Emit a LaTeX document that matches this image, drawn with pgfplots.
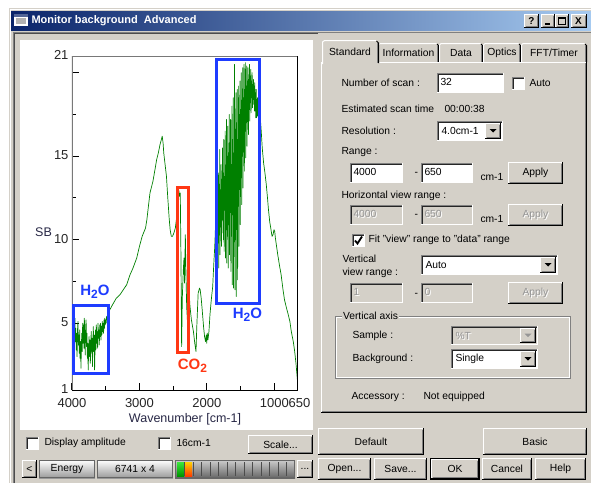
\documentclass[border=0pt]{standalone}
\usepackage{pgfplots}
\pgfplotsset{compat=1.18}
\usepackage{fontspec}
\setmainfont{Liberation Sans}
\definecolor{winbg}{RGB}{212,208,200}
\definecolor{winshadow}{RGB}{128,128,128}
\definecolor{distxt}{RGB}{150,150,150}
\definecolor{titleL}{RGB}{10,36,106}
\definecolor{titleR}{RGB}{166,202,240}
\definecolor{specgreen}{RGB}{0,128,0}
\definecolor{annblue}{RGB}{30,60,255}
\definecolor{annred}{RGB}{255,55,20}
\definecolor{axgray}{RGB}{120,120,120}
\definecolor{lbltext}{RGB}{40,40,70}
\newcommand\dlg{\fontsize{10.3}{12}\selectfont}
\newcommand\tickf{\fontsize{13}{13}\selectfont}
\newcommand{\raisedbox}[4]{%
  \fill[winbg] (#1,#2) rectangle (#3,#4);
  \draw[white] (#1+0.5,#4-1) -- (#1+0.5,#2+0.5) -- (#3-1,#2+0.5);
  \draw[winshadow] (#1+1.5,#4-1.5) -- (#3-1.5,#4-1.5) -- (#3-1.5,#2+1.5);
  \draw[black] (#1,#4-0.5) -- (#3-0.5,#4-0.5) -- (#3-0.5,#2);}
\newcommand{\sunkenbox}[5]{%
  \fill[#1] (#2,#3) rectangle (#4,#5);
  \draw[winshadow] (#2+0.5,#5) -- (#2+0.5,#3+0.5) -- (#4,#3+0.5);
  \draw[black!85] (#2+1.5,#5-1) -- (#2+1.5,#3+1.5) -- (#4-1,#3+1.5);
  \draw[white] (#2,#5-0.5) -- (#4-0.5,#5-0.5) -- (#4-0.5,#3);}
\newcommand{\btn}[5]{\raisedbox{#1}{#2}{#3}{#4}%
  \node[font=\dlg,inner sep=0] at ({(#1+#3)/2},{(#2+#4)/2}) {#5};}
\newcommand{\distext}[3]{%
  \node[anchor=west,inner sep=0,font=\dlg,text=white] at (#1+1,#2+1) {#3};
  \node[anchor=west,inner sep=0,font=\dlg,text=distxt] at (#1,#2) {#3};}
\newcommand{\dbtn}[5]{\raisedbox{#1}{#2}{#3}{#4}%
  \node[font=\dlg,inner sep=0,text=white] at ({(#1+#3)/2+1},{(#2+#4)/2+1}) {#5};
  \node[font=\dlg,inner sep=0,text=distxt] at ({(#1+#3)/2},{(#2+#4)/2}) {#5};}
\newcommand{\txt}[3]{\node[anchor=west,inner sep=0,font=\dlg] at (#1,#2) {#3};}
\newcommand{\chk}[2]{\sunkenbox{white}{#1}{#2}{#1+13}{#2+13}}
\newcommand{\ddown}[6]{%
  \sunkenbox{#1}{#2}{#3}{#4}{#5}
  \raisedbox{#4-18}{#3+2}{#4-2}{#5-2}
  \fill[black] (#4-13.5,{(#3+#5)/2-2}) -- (#4-6.5,{(#3+#5)/2-2}) -- (#4-10,{(#3+#5)/2+1.5}) -- cycle;
  \node[anchor=west,font=\dlg,inner sep=0] at (#2+4,{(#3+#5)/2}) {#6};}
\newcommand{\tabx}[5]{%
  \fill[winbg] (#1,#4) -- (#1,#2+2) -- (#1+2,#2) -- (#3-2,#2) -- (#3,#2+2) -- (#3,#4) -- cycle;
  \draw[white] (#1+0.5,#4) -- (#1+0.5,#2+2) -- (#1+2,#2+0.5) -- (#3-2.5,#2+0.5);
  \draw[black] (#3-2,#2+1) -- (#3-0.5,#2+2.5) -- (#3-0.5,#4);
  \draw[winshadow] (#3-1.5,#2+2) -- (#3-1.5,#4);
  \node[font=\dlg,inner sep=0] at ({(#1+#3)/2},{(#2+#4)/2+0.5}) {#5};}
\begin{document}
\begin{tikzpicture}
\begin{scope}[x=1pt,y=-1pt,line width=1pt]
\useasboundingbox (0,0) rectangle (591,483);
\fill[white] (0,0) rectangle (591,483);
\fill[winbg] (9,8) rectangle (591,483);
\draw[white] (10.5,483) -- (10.5,9.5) -- (591,9.5);
% title bar
\shade[left color=titleL,right color=titleR] (11,11) rectangle (591,30);
\fill[white] (14,14) rectangle (28,26);
\fill[titleL!70] (14,14) rectangle (28,16.5);
\fill[black!30] (16,18) rectangle (26,24);
\node[anchor=west,inner sep=0,font=\fontsize{11}{12}\selectfont\bfseries,text=white] at (31,20.5) {Monitor background\ \ Advanced};
\raisedbox{524}{14}{539}{28}\node[font=\fontsize{10}{10}\selectfont\bfseries,inner sep=0] at (531.5,21) {?};
\raisedbox{541}{14}{555}{28}\draw[black,line width=1.5pt] (545,24) -- (550,24);
\raisedbox{555}{14}{569}{28}\draw[black] (558.5,17.5) rectangle (565.5,24.5);\draw[black,line width=1.5pt] (558.5,18) -- (565.5,18);
\raisedbox{571}{14}{587}{28}\node[font=\fontsize{10}{10}\selectfont\bfseries,inner sep=0] at (578.5,21) {X};
% client frame
\draw[winshadow] (13.5,483) -- (13.5,32.5) -- (591,32.5);
\draw[black!70] (14.5,483) -- (14.5,33.5) -- (318,33.5);
% plot panel
\fill[white] (20,40) rectangle (313,430);
% tabs
\tabx{378}{43}{439}{62}{Information}
\tabx{439}{43}{483}{62}{Data}
\tabx{483}{43}{521}{62}{Optics}
\tabx{521}{43}{587}{62}{FFT/Timer}
\fill[winbg] (321,62) rectangle (587,413);
\draw[white] (321.5,413) -- (321.5,62.5) -- (587,62.5);
\draw[winshadow] (322,411.5) -- (585.5,411.5) -- (585.5,63);
\draw[black] (321,412.5) -- (586.5,412.5) -- (586.5,62);
\fill[winbg] (322,40) rectangle (378,64);
\draw[white] (322.5,64) -- (322.5,42) -- (324.5,40.5) -- (376,40.5);
\draw[black] (376.5,41) -- (378.5,43) -- (378.5,63);
\draw[winshadow] (377.5,43) -- (377.5,63);
\node[font=\dlg,inner sep=0] at (350,51.5) {Standard};
% panel contents
\txt{341}{82.7}{Number of scan :}
\sunkenbox{white}{437}{73}{504}{93}\txt{440}{82}{32}
\chk{512}{77}\txt{529}{83}{Auto}
\txt{341}{109}{Estimated scan time}\txt{444}{109}{00:00:38}
\txt{341}{131}{Resolution :}
\ddown{white}{437}{121}{503}{141}{4.0cm-1}
\txt{341}{152}{Range :}
\sunkenbox{white}{350}{163}{403}{183}\txt{353}{172}{4000}
\txt{414}{174}{-}
\sunkenbox{white}{421}{163}{473}{183}\txt{424}{172}{650}
\txt{480}{177}{cm-1}
\btn{508}{162}{563}{184}{Apply}
\txt{341}{196}{Horizontal view range :}
\sunkenbox{winbg}{350}{205}{403}{225}\distext{353}{214}{4000}
\txt{414}{216}{-}
\sunkenbox{winbg}{421}{205}{473}{225}\distext{424}{214}{650}
\txt{480}{219}{cm-1}
\dbtn{508}{204}{563}{226}{Apply}
\chk{352}{234}
\draw[black,line width=1.8pt] (355,240.5) -- (357.5,243.5) -- (362,236.5);
\txt{368}{240}{Fit "view" range to "data" range}
\txt{342}{259}{Vertical}
\txt{342}{273}{view range :}
\ddown{white}{421}{255}{558}{275}{Auto}
\sunkenbox{winbg}{350}{283}{403}{303}\distext{353}{292}{1}
\txt{414}{295}{-}
\sunkenbox{winbg}{421}{283}{473}{303}\distext{424}{292}{0}
\dbtn{508}{282}{563}{304}{Apply}
\draw[winshadow] (335.5,316.5) rectangle (570.5,378.5);
\draw[white] (336.5,317.5) -- (336.5,377.5) -- (569.5,377.5) -- (569.5,317.5) -- cycle;
\node[anchor=west,inner xsep=1.5pt,inner ysep=0,fill=winbg,font=\dlg] at (341,316) {Vertical axis};
\txt{352}{336}{Sample :}
\sunkenbox{winbg}{451}{326}{538}{345}
\raisedbox{520}{328}{536}{343}
\fill[distxt] (524.5,333.5) -- (531.5,333.5) -- (528,337) -- cycle;
\distext{455}{335.5}{\%T}
\txt{352}{359}{Background :}
\ddown{white}{451}{349}{538}{369}{Single}
\txt{351}{397}{Accessory :}\txt{423}{397}{Not equipped}
% bottom right buttons
\btn{318}{428}{424}{455}{Default}
\btn{483}{428}{587}{455}{Basic}
\btn{318}{458}{371}{480}{Open...}
\btn{374}{458}{427}{480}{Save...}
\fill[black] (430,458) rectangle (480,480);
\raisedbox{431}{459}{479}{479}\node[font=\dlg,inner sep=0] at (455,469) {OK};
\btn{482}{458}{532}{480}{Cancel}
\btn{535}{458}{586}{480}{Help}
% bottom left controls
\chk{26}{437}\txt{44}{443}{Display amplitude}
\chk{158}{437}\txt{176}{443}{16cm-1}
\btn{248}{435}{313}{454}{Scale...}
\btn{22}{460}{37}{478}{<}
\shade[top color=white,bottom color=black!40] (39,460) rectangle (95,478);
\draw[black!60] (39.5,460.5) rectangle (94.5,477.5);
\node[font=\dlg,inner sep=0] at (67,469) {Energy};
\shade[top color=white,bottom color=black!40] (97,460) rectangle (173,478);
\draw[black!60] (97.5,460.5) rectangle (172.5,477.5);
\node[font=\dlg,inner sep=0] at (135,469) {6741 x 4};
\shade[top color=black!20,bottom color=black!60] (175,460) rectangle (295,478);
\shade[top color={rgb,255:red,60;green,230;blue,60},bottom color={rgb,255:red,0;green,150;blue,0}] (177,462) rectangle (184,476);
\shade[top color={rgb,255:red,255;green,210;blue,0},bottom color={rgb,255:red,255;green,60;blue,0}] (185,462) rectangle (192,476);
\foreach \k in {0,...,12} {\draw[black!70] ({184.5+8.5*\k},462) -- ({184.5+8.5*\k},476);}
\draw[black!60] (175.5,460.5) rectangle (294.5,477.5);
\btn{297}{460}{313}{478}{...}
\end{scope}
\begin{axis}[
  at={(72pt,-390pt)}, anchor=south west, scale only axis,
  width=226pt, height=334pt,
  x dir=reverse, xmin=650, xmax=4000, ymin=1, ymax=21,
  axis line style={draw=none},
  xtick={4000,3000,2000,1000}, xticklabels={4000,3000,2000,1000},
  extra x ticks={650}, extra x tick labels={650},
  extra x tick style={major tick length=0pt, xticklabel style={xshift=1.5pt}},
  minor xtick={3500,2500,1500},
  ytick={1,5,10,15,20,21}, yticklabels={1,5,10,15,,21},
  minor ytick={7.5,12.5,17.5},
  xtick pos=bottom, ytick pos=left, tick align=inside,
  major tick length=7.5pt, minor tick length=4pt,
  tick style={black, line width=1pt},
  xticklabel style={font=\tickf, text=black!85, inner ysep=0pt, yshift=-8pt},
  yticklabel style={font=\tickf, text=black!85, inner ysep=0pt, yshift=1pt},
  /pgf/number format/assume math mode=true,
]
\addplot[specgreen, line width=0.7pt, line join=round] coordinates {
(3995,4.9)(3988,5.2)(3981,4.1)(3975,4.8)(3969,3.6)(3962,4.5)(3956,5.3)(3950,3.9)(3944,4.7)(3937,3.4)
(3931,4.4)(3925,3.0)(3918,4.6)(3912,5.1)(3905,3.7)(3899,4.3)(3892,3.2)(3886,4.6)(3880,2.9)(3874,3.9)
(3867,2.3)(3861,3.6)(3855,4.4)(3848,3.3)(3842,5.0)(3836,3.8)(3829,4.9)(3823,3.5)(3817,5.3)(3810,4.2)
(3804,3.1)(3798,4.7)(3791,5.2)(3785,3.6)(3779,4.4)(3772,2.9)(3766,3.8)(3760,2.2)(3753,3.4)(3747,4.2)
(3741,3.0)(3734,4.0)(3728,2.6)(3722,3.7)(3715,4.5)(3709,3.2)(3703,4.1)(3696,2.4)(3690,3.9)(3684,4.8)
(3677,3.3)(3671,4.3)(3665,2.2)(3658,3.6)(3652,4.6)(3646,3.4)(3639,4.9)(3633,3.8)(3627,4.5)(3620,3.5)
(3614,5.0)(3608,4.1)(3601,4.6)(3595,3.7)(3589,4.9)(3582,4.2)(3576,5.0)(3570,4.0)(3563,4.8)(3557,4.3)
(3551,5.1)(3544,4.5)(3538,5.0)(3532,4.4)(3525,5.2)(3519,4.7)(3513,5.3)(3506,4.9)(3500,5.2)(3494,5.0)
(3487,5.4)(3481,5.2)(3475,5.5)(3468,5.6)
(3440,5.8)(3400,6.1)(3343,6.5)(3290,6.7)(3240,7.0)(3190,7.3)(3140,7.9)(3096,8.3)(3041,8.9)(3000,9.6)
(2960,10.2)(2930,10.5)(2910,10.7)(2890,11.2)(2873,11.8)(2844,12.8)(2800,13.5)(2770,14.2)(2745,14.8)
(2720,15.2)(2695,15.7)(2675,16.0)(2663,16.2)(2650,15.8)(2640,15.2)(2620,14.5)(2600,13.8)(2580,12.5)
(2560,11.3)(2545,10.6)(2528,10.2)(2510,10.2)(2490,10.4)(2468,10.7)(2450,11.3)(2430,12.2)(2418,13.0)
(2405,12.6)(2395,12.8)(2385,9.0)(2375,3.6)(2365,6.5)(2350,8.2)(2340,8.9)(2332,7.4)(2320,10.3)(2310,7.8)
(2300,6.0)(2290,5.2)(2275,6.3)(2260,6.6)(2251,6.0)(2230,5.2)(2200,4.5)(2180,3.8)(2162,3.3)(2150,4.8)
(2130,6.8)(2110,7.1)(2100,7.0)(2085,6.5)(2070,5.8)(2050,4.8)(2035,4.2)(2020,3.9)(2010,4.3)(2003,3.8)
(1995,4.4)(1985,4.0)(1970,4.5)(1955,5.5)(1940,6.2)(1925,6.8)(1914,7.2)(1905,8.0)(1895,8.8)(1885,9.5)
(1878,10.2)
(1870,11.2)(1865,9.3)(1860,10.8)(1855,9.0)(1850,12.5)(1845,8.6)(1840,11.4)(1835,9.8)(1830,14.0)(1825,8.3)
(1820,12.2)(1815,10.5)(1810,15.4)(1805,9.1)(1800,13.0)(1795,11.0)(1790,14.5)(1785,9.6)(1780,13.2)(1775,10.4)
(1770,15.5)(1765,11.2)(1760,14.0)(1755,10.0)(1750,16.0)(1745,9.3)(1740,13.5)(1735,11.8)(1730,16.5)(1725,8.9)
(1720,14.2)(1715,10.6)(1710,17.2)(1705,8.6)(1700,15.0)(1695,12.0)(1690,16.8)(1685,8.3)(1680,13.6)(1675,10.9)
(1670,17.5)(1665,9.1)(1660,15.8)(1655,12.5)(1650,17.2)(1645,8.1)(1640,14.5)(1635,10.2)(1630,18.0)(1625,7.3)
(1620,16.0)(1615,11.5)(1610,18.5)(1605,7.1)(1600,15.2)(1595,12.8)(1590,20.5)(1585,7.0)(1580,16.5)(1575,10.0)
(1570,18.8)(1565,6.6)(1560,17.0)(1555,11.2)(1550,19.0)(1545,7.6)(1540,16.0)(1535,12.0)(1530,19.2)(1525,9.6)
(1520,17.5)(1515,13.0)(1510,19.5)(1505,10.9)(1500,17.8)(1495,14.0)(1490,20.0)(1485,12.1)(1480,18.0)(1475,15.0)
(1470,20.3)(1465,13.1)(1460,18.5)(1455,15.8)(1450,20.5)(1445,14.1)(1440,19.0)(1435,16.5)(1430,20.6)(1425,14.9)
(1420,19.2)(1415,17.0)(1410,20.4)(1405,15.6)(1400,19.5)(1395,17.3)(1390,20.3)(1385,16.3)(1380,19.6)(1375,17.8)
(1370,20.5)(1365,17.1)(1360,19.8)(1355,18.2)(1350,20.2)(1345,17.6)(1340,19.5)(1335,18.5)(1330,20.0)(1325,17.9)
(1320,19.3)(1315,18.4)(1310,19.6)(1305,18.1)(1300,19.2)(1295,17.7)(1290,19.4)(1285,17.7)(1280,18.8)(1275,17.3)
(1270,19.0)(1265,17.3)(1260,18.4)(1255,17.4)(1250,18.5)(1245,17.4)(1240,18.2)(1235,17.5)(1230,18.0)(1225,17.4)
(1220,17.7)(1215,17.6)
(1198,16.7)(1180,15.5)(1160,14.6)(1140,14.0)(1120,13.3)(1100,12.4)(1090,11.9)(1070,11.1)(1050,10.6)(1035,10.2)
(1020,10.3)(1006,10.6)(995,10.5)(985,10.1)(971,9.7)(950,9.1)(922,8.4)(900,7.9)(872,7.0)(850,6.4)(820,5.9)
(800,5.6)(770,5.1)(749,4.5)(720,3.9)(699,3.3)(680,2.6)(665,1.9)(655,1.4)(651,1.2)
};
\draw[axgray, line width=1.5pt] (rel axis cs:0,0) -- (rel axis cs:0,1) -- (rel axis cs:1,1);
\draw[black, line width=1pt] (rel axis cs:0,0) -- (rel axis cs:1,0) -- (rel axis cs:1,1);
\draw[annblue, line width=3pt] (axis cs:3980,6.07) rectangle (axis cs:3466,1.98);
\draw[annred, line width=3pt] (axis cs:2439,13.14) rectangle (axis cs:2276,3.26);
\draw[annblue, line width=3pt] (axis cs:1861,20.78) rectangle (axis cs:1218,6.21);
\end{axis}
\begin{scope}[x=1pt,y=-1pt]
\node[font=\fontsize{15}{15}\selectfont\bfseries,text=annblue,inner sep=0] at (95,292) {H\raisebox{-3.5pt}{\fontsize{12}{12}\selectfont 2}O};
\node[font=\fontsize{15}{15}\selectfont\bfseries,text=annblue,inner sep=0] at (247.5,315) {H\raisebox{-3.5pt}{\fontsize{12}{12}\selectfont 2}O};
\node[font=\fontsize{15}{15}\selectfont\bfseries,text=annred,inner sep=0] at (192.5,366) {CO\raisebox{-3.5pt}{\fontsize{12}{12}\selectfont 2}};
\node[font=\fontsize{12.5}{13}\selectfont,text=lbltext,inner sep=0] at (43.5,232) {SB};
\node[font=\fontsize{12.5}{13}\selectfont,text=lbltext,inner sep=0] at (185,419) {Wavenumber [cm-1]};
\end{scope}
\end{tikzpicture}
\end{document}
